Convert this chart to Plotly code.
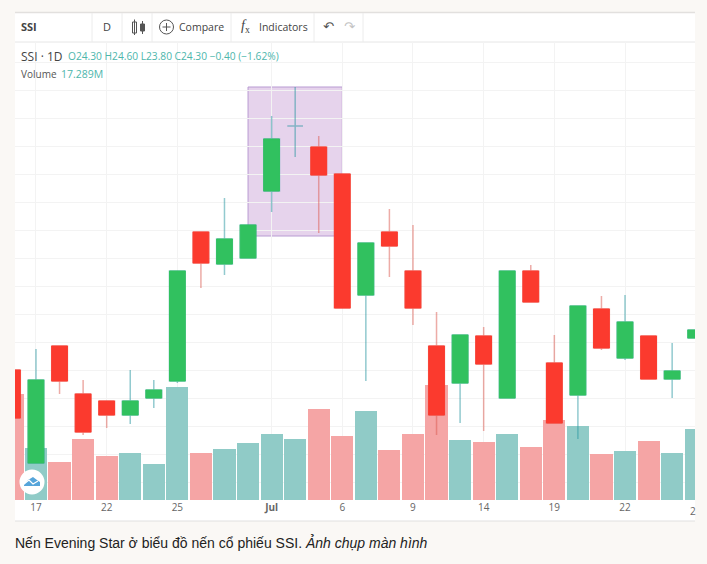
import plotly.graph_objects as go

# candles (price scale is an estimate)
days = list(range(30))
opens = [21.86, 20.93, 22.10, 21.62, 21.55, 21.41, 21.58, 21.75, 23.24, 22.92,
         22.98, 23.65, 24.30, 24.09, 23.82, 22.61, 23.24, 22.85, 22.10, 21.73,
         22.20, 21.58, 22.85, 21.93, 21.61, 22.47, 21.98, 22.20, 21.77, 22.18]
highs = [21.86, 22.07, 22.10, 21.76, 21.55, 21.86, 21.76, 22.85, 23.24, 23.58,
         23.31, 24.40, 24.69, 24.20, 23.82, 23.13, 23.47, 23.31, 22.44, 22.21,
         22.29, 22.85, 22.91, 22.21, 22.50, 22.60, 22.61, 22.20, 22.13, 22.26]
lows = [21.38, 20.93, 21.62, 21.21, 21.28, 21.32, 21.48, 21.73, 22.68, 22.81,
        22.98, 23.44, 23.99, 23.23, 22.48, 21.75, 22.79, 22.31, 21.21, 21.33,
        21.25, 21.58, 22.54, 21.33, 21.17, 22.06, 21.96, 21.77, 21.58, 22.18]
closes = [21.38, 21.76, 21.75, 21.24, 21.41, 21.55, 21.66, 22.85, 22.93, 23.17,
          23.31, 24.17, 24.30, 23.81, 22.48, 23.13, 23.10, 22.48, 21.41, 22.21,
          21.92, 22.85, 22.54, 21.33, 22.50, 22.08, 22.34, 21.77, 21.85, 22.26]
# volume in millions
volumes = [30.04, 14.74, 10.77, 17.29, 12.47, 13.32, 10.20, 32.02, 13.32, 14.45,
           16.15, 18.70, 17.289, 25.79, 18.14, 25.22, 14.17, 18.70, 32.59, 17.00,
           16.44, 18.70, 15.02, 22.67, 20.97, 13.04, 13.89, 16.72, 13.32, 20.12]
tick_days = [1, 4, 7, 11, 14, 17, 20, 23, 26]
tick_labels = ['17', '22', '25', '<b>Jul</b>', '6', '9', '14', '19', '22']

W, H = 707, 564
PAGE = '#faf8f5'
UI = 'Open Sans'
TEAL = '#4db6ac'

def px(x):
    return x / W

def py(y):
    return 1 - y / H

def box(x0, y0, x1, y1, **kw):
    return dict(type='rect', xref='paper', yref='paper', x0=px(x0), x1=px(x1),
                y0=py(y0), y1=py(y1), **kw)

def rule(x0, y0, x1, y1, color='#e4e4e4', width=1, layer='below'):
    return dict(type='line', xref='paper', yref='paper', x0=px(x0), x1=px(x1),
                y0=py(y0), y1=py(y1), line=dict(color=color, width=width), layer=layer)

def label(x, y, text, size=11, color='#444', anchor='left', font=UI):
    # annotations carry about 2px of padding on the anchored side
    shift = -2 if anchor == 'left' else 0
    return dict(xref='paper', yref='paper', x=px(x), y=py(y), xshift=shift, text=text, showarrow=False,
                xanchor=anchor, yanchor='middle', font=dict(family=font, size=size, color=color))

fig = go.Figure()

bar_colors = ['#90cbc7' if c >= o else '#f5a5a5' for o, c in zip(opens, closes)]
fig.add_trace(go.Bar(x=days, y=volumes, marker=dict(color=bar_colors, line_width=0),
                     width=0.94, yaxis='y'))

# pale wicks first, then the strong bodies on top (doji keeps only its thin line)
fig.add_trace(go.Candlestick(x=days, open=opens, high=highs, low=lows, close=closes, yaxis='y2',
                             whiskerwidth=0,
                             increasing=dict(line=dict(color='rgba(38,150,160,0.5)', width=1.5),
                                             fillcolor='rgba(0,0,0,0)'),
                             decreasing=dict(line=dict(color='rgba(220,90,80,0.5)', width=1.5),
                                             fillcolor='rgba(0,0,0,0)')))
keep = [i for i in days if opens[i] != closes[i]]
fig.add_trace(go.Candlestick(x=keep,
                             open=[opens[i] for i in keep],
                             high=[max(opens[i], closes[i]) for i in keep],
                             low=[min(opens[i], closes[i]) for i in keep],
                             close=[closes[i] for i in keep], yaxis='y2',
                             whiskerwidth=0,
                             increasing=dict(line=dict(color='#31c15f', width=1), fillcolor='#31c15f'),
                             decreasing=dict(line=dict(color='#fb3a2e', width=1), fillcolor='#fb3a2e')))

shapes = [
    box(15, 12, 695, 521, fillcolor='white', line_width=0, layer='below'),
    rule(15, 12.5, 695, 12.5, '#e2e0de', 1.5),
    rule(15, 42, 695, 42, '#e6e6e6'),
    rule(15, 521, 695, 521, '#e0e0e0'),
    # evening star highlight
    dict(type='rect', xref='x', yref='y2', x0=10, x1=14, y0=23.20, y1=24.69,
         fillcolor='#e6d3ec', line=dict(color='#b89bd2', width=1), layer='below'),
    # compare icon
    dict(type='circle', xref='paper', yref='paper', x0=px(159.5), x1=px(173.5), y0=py(20), y1=py(34),
         line=dict(color='#555', width=1), layer='above'),
    rule(162.5, 27, 170.5, 27, '#555', 1, 'above'),
    rule(166.5, 23, 166.5, 31, '#555', 1, 'above'),
    # candle icon
    box(132.5, 22, 136.5, 33, line=dict(color='#555', width=1), layer='above'),
    rule(134.5, 19.5, 134.5, 35, '#555', 1, 'above'),
    box(140.5, 24, 144.5, 31, fillcolor='#555', line=dict(color='#555', width=1), layer='above'),
    rule(142.5, 21, 142.5, 34, '#555', 1, 'above'),
    # logo
    dict(type='circle', xref='paper', yref='paper', x0=px(19.5), x1=px(44.5), y0=py(469.5), y1=py(494.5),
         fillcolor='white', line_width=0, layer='above'),
    dict(type='path', xref='paper', yref='paper', layer='above', fillcolor='#56a5da', line_width=0,
         path='M %f %f L %f %f L %f %f L %f %f L %f %f L %f %f L %f %f Z' % (
             px(24), py(485), px(28), py(480), px(33), py(477), px(37), py(480),
             px(40), py(482), px(40), py(486), px(24), py(486))),
    dict(type='path', xref='paper', yref='paper', layer='above', line=dict(color='white', width=1.2),
         path='M %f %f L %f %f L %f %f L %f %f' % (
             px(24), py(484), px(29), py(480), px(33), py(484), px(38), py(481))),
]
for sep in [92, 122, 152, 231, 314, 363]:
    shapes.append(rule(sep, 13, sep, 42, '#ececec'))

ohlc = ('<span style="color:%s">O24.30 H24.60 L23.80 C24.30 \u22120.40 (\u22121.62%%)</span>' % TEAL)
notes = [
    label(21, 27, '<b>SSI</b>', 11, '#444'),
    label(106.5, 27, 'D', 11, '#444', 'center'),
    label(179, 27, 'Compare', 10.5, '#444'),
    label(241, 27, '<i>f</i><sub>x</sub>', 14, '#444', font='Liberation Serif'),
    label(259, 27, 'Indicators', 10.5, '#444'),
    label(328, 27, '\u21b6', 13, '#555', 'center', 'DejaVu Sans'),
    label(350, 27, '\u21b7', 13, '#c4c4c4', 'center', 'DejaVu Sans'),
    label(21, 56, 'SSI \u00b7 1D', 12, '#444'),
    label(68, 56, ohlc, 10.2),
    label(21, 74, 'Volume', 10, '#555'),
    label(61, 74, '17.289M', 10.5, TEAL),
    label(693, 511, '2', 10, '#666', 'center'),
    label(15, 542, 'N\u1ebfn Evening Star \u1edf bi\u1ec3u \u0111\u1ed3 n\u1ebfn c\u1ed5 phi\u1ebfu SSI. <i>\u1ea2nh ch\u1ee5p m\u00e0n h\u00ecnh</i>',
          14, '#222', font='Liberation Sans'),
]

fig.update_layout(
    width=W, height=H,
    margin=dict(l=0, r=0, t=0, b=0),
    paper_bgcolor=PAGE,
    plot_bgcolor='rgba(0,0,0,0)',
    showlegend=False,
    boxgap=0.045,
    bargap=0,
    shapes=shapes,
    annotations=notes,
    hovermode=False,
    xaxis=dict(domain=[px(15), px(695)], range=[0.109, 28.97], tickmode='array',
               tickvals=tick_days, ticktext=tick_labels, showgrid=True, gridcolor='#f3f3f3',
               zeroline=False, showline=False, ticks='', rangeslider=dict(visible=False),
               tickfont=dict(family=UI, size=10, color='#666')),
    yaxis=dict(domain=[py(500), py(42)], range=[0, 129.8], visible=False, showgrid=False),
    yaxis2=dict(domain=[py(500), py(42)], range=[20.56, 25.14], overlaying='y', side='right',
                tick0=24.66, dtick=0.28, showgrid=True, gridcolor='#f3f3f3', zeroline=False,
                showticklabels=False, ticks=''),
)

fig.write_html("out.html", config=dict(displayModeBar=False),
               post_script="document.body.style.margin='0';document.body.style.background='%s';" % PAGE)
